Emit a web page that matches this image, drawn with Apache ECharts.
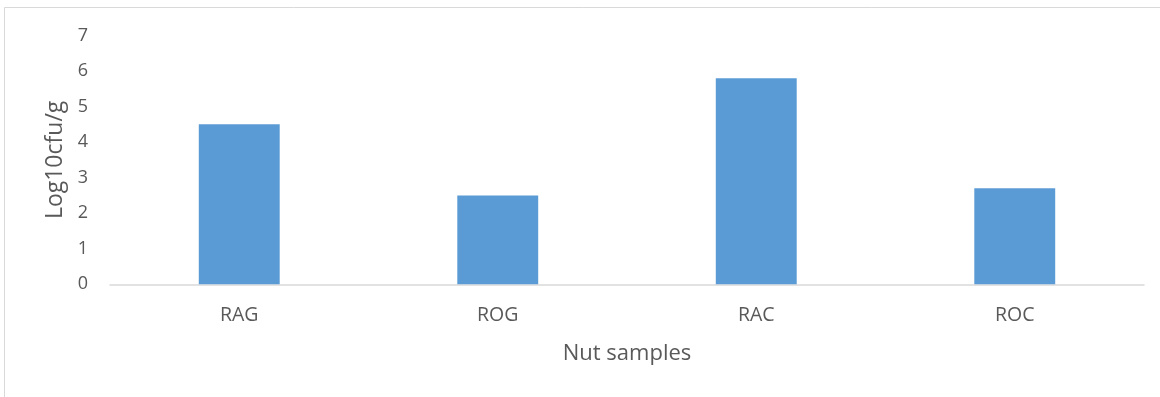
<!DOCTYPE html>
<html>
<head>
<meta charset="utf-8">
<script src="https://cdn.jsdelivr.net/npm/echarts@6/dist/echarts.min.js"></script>
<style>
html,body{margin:0;padding:0;background:#fff;}
#chart{width:1160px;height:397px;}
</style>
</head>
<body>
<div id="chart"></div>
<script>
const categories = ['RAG', 'ROG', 'RAC', 'ROC'];
const values = [4.5, 2.5, 5.8, 2.7];
const yTicks = [0, 1, 2, 3, 4, 5, 6, 7];

const chart = echarts.init(document.getElementById('chart'), null, {renderer: 'canvas'});
const font = '"Open Sans", "Liberation Sans", sans-serif';
chart.setOption({
  animation: false,
  backgroundColor: '#fff',
  graphic: [
    {type: 'line', shape: {x1: 4.5, y1: 7.5, x2: 1160, y2: 7.5}, style: {stroke: '#d9d9d9', lineWidth: 1}},
    {type: 'line', shape: {x1: 4.5, y1: 7.5, x2: 4.5, y2: 397}, style: {stroke: '#d9d9d9', lineWidth: 1}}
  ],
  grid: {left: 110, right: 16, top: 35.5, bottom: 112.7, containLabel: false},
  xAxis: {
    type: 'category',
    data: categories,
    name: 'Nut samples',
    nameLocation: 'middle',
    nameGap: 58,
    nameTextStyle: {color: '#595959', fontSize: 22, fontFamily: font},
    axisLine: {lineStyle: {color: '#d9d9d9', width: 1.5}},
    axisTick: {show: false},
    axisLabel: {color: '#595959', fontSize: 19.5, fontFamily: font, margin: 21}
  },
  yAxis: {
    type: 'value',
    min: yTicks[0],
    max: yTicks[yTicks.length - 1],
    interval: 1,
    name: 'Log10cfu/g',
    nameLocation: 'middle',
    nameGap: 42,
    nameRotate: 90,
    nameTextStyle: {color: '#595959', fontSize: 23, fontFamily: font},
    axisLine: {show: false},
    axisTick: {show: false},
    splitLine: {show: false},
    axisLabel: {color: '#595959', fontSize: 18, fontFamily: font, margin: 22}
  },
  series: [{
    type: 'bar',
    data: values,
    barWidth: '31.3%',
    itemStyle: {color: '#5b9bd5'}
  }]
});
</script>
</body>
</html>
